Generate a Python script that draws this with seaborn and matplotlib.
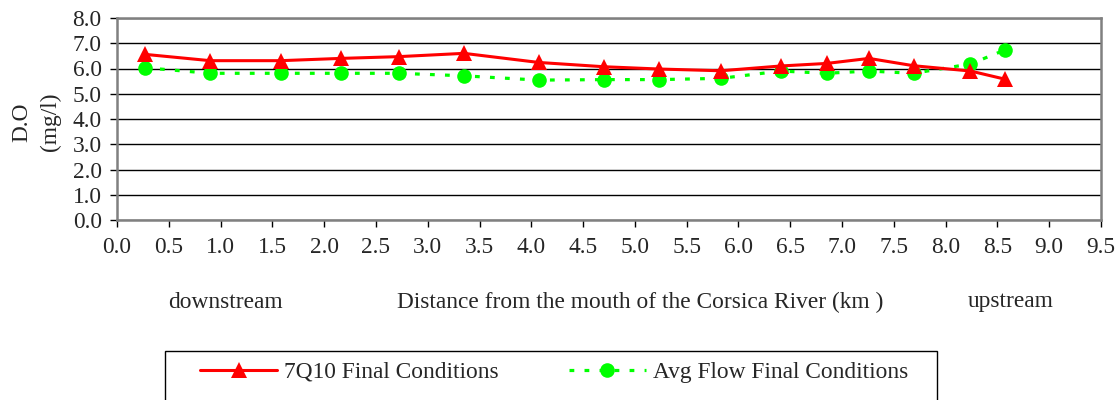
import matplotlib
matplotlib.use("Agg")
import matplotlib.pyplot as plt
from matplotlib.patches import Rectangle
import seaborn as sns
import pandas as pd

# Station distances from the river mouth (km)
distance_km = [0.27, 0.90, 1.58, 2.16, 2.72, 3.35, 4.07, 4.70, 5.23, 5.83,
               6.41, 6.85, 7.26, 7.69, 8.24, 8.57]
# Dissolved oxygen (mg/l) for each scenario
do_7q10 = [6.56, 6.31, 6.31, 6.40, 6.47, 6.60, 6.24, 6.07, 5.98, 5.91,
           6.10, 6.20, 6.40, 6.11, 5.90, 5.58]
do_avg_flow = [6.03, 5.81, 5.81, 5.81, 5.81, 5.71, 5.54, 5.56, 5.56, 5.61,
               5.90, 5.81, 5.90, 5.81, 6.18, 6.73]

series_7q10 = "7Q10 Final Conditions"
series_avg = "Avg Flow Final Conditions"

x_ticks = [i * 0.5 for i in range(20)]
y_ticks = list(range(0, 9))

FS = 16.8

sns.set_style("white")
plt.rcParams["font.family"] = ["Liberation Serif", "DejaVu Serif"]
plt.rcParams["font.size"] = FS

df_7q10 = pd.DataFrame({"km": distance_km, "do": do_7q10})
df_avg = pd.DataFrame({"km": distance_km, "do": do_avg_flow})

W, H = 1118, 400
fig = plt.figure(figsize=(W / 100, H / 100), dpi=100)
ax = fig.add_axes([117 / W, 180 / H, 984 / W, 202 / H])

sns.lineplot(data=df_7q10, x="km", y="do", ax=ax, color="#ff0000",
             linewidth=2.2, marker="^", markersize=11.5, markeredgewidth=0,
             label=series_7q10, zorder=4)
sns.lineplot(data=df_avg, x="km", y="do", ax=ax, color="#00ff00",
             linewidth=2.3, linestyle=(0, (1.5, 3.2)), marker="o",
             markersize=10.5, markeredgewidth=0, label=series_avg, zorder=3)

ax.set_xlim(0, 9.5)
ax.set_ylim(0, 8)
ax.set_xticks(x_ticks)
ax.set_xticklabels([f"{v:.1f}" for v in x_ticks])
ax.set_yticks(y_ticks)
ax.set_yticklabels([f"{v:.1f}" for v in y_ticks])
ax.set_xlabel("")
ax.set_ylabel("")

ax.grid(axis="y", color="black", linewidth=1.0)
ax.grid(axis="x", visible=False)
ax.set_axisbelow(True)

for side in ["top", "right", "left", "bottom"]:
    ax.spines[side].set_visible(True)
    ax.spines[side].set_color("#808080")
    ax.spines[side].set_linewidth(1.8)

ax.tick_params(axis="both", which="both", direction="out", length=5,
               width=1.0, color="black", labelsize=FS)
ax.tick_params(axis="x", pad=7, bottom=True)
ax.tick_params(axis="y", pad=6, left=True)

# Axis titles
fig.text(36 / W, 1 - 122 / H, "D.O\n(mg/l)", rotation=90,
         ha="center", va="center", fontsize=FS, multialignment="center",
         linespacing=1.45)
fig.text(225 / W, 1 - 302 / H, "downstream", ha="center", va="center",
         fontsize=FS)
fig.text(640 / W, 1 - 302 / H,
         "Distance from the mouth of the Corsica River (km )",
         ha="center", va="center", fontsize=FS)
fig.text(1011 / W, 1 - 302 / H, "upstream", ha="center", va="center",
         fontsize=FS)

# Legend box, running past the lower edge of the figure
fig.patches.append(Rectangle((165 / W, -0.1), 772 / W, 0.1 + 49 / H,
                             transform=fig.transFigure, fill=False,
                             edgecolor="black", linewidth=1.0))
ax.legend_.remove()
handles, labels = ax.get_legend_handles_labels()
fig.legend(handles, labels, ncol=2, loc="center left",
           bbox_to_anchor=(200 / W, 1 - 372 / H), borderaxespad=0,
           borderpad=0, frameon=False, fontsize=FS,
           handlelength=3.3, handletextpad=0.3, columnspacing=3.0,
           numpoints=1)

fig.savefig("out.png", dpi=100)
